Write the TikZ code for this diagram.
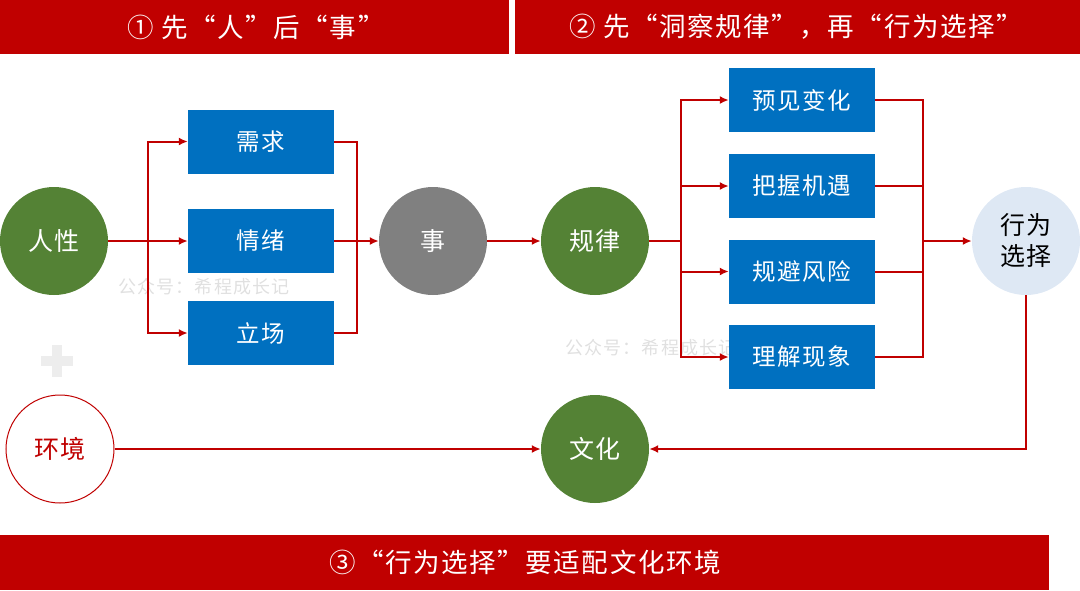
\documentclass[tikz,border=0pt]{standalone}
\usepackage{fontspec}
\setmainfont[LetterSpace=6]{Noto Sans CJK SC}
\usetikzlibrary{arrows.meta}
\definecolor{bannerred}{RGB}{192,0,0}
\definecolor{boxblue}{RGB}{0,112,192}
\definecolor{leafgreen}{RGB}{84,130,53}
\definecolor{palesky}{RGB}{222,232,244}
\tikzset{
    banner/.style={text=white, font=\fontsize{26.5}{30}\selectfont},
    stepbox/.style={fill=boxblue, text=white, minimum width=146pt, minimum height=64pt, inner sep=0pt, font=\fontsize{23.5}{27}\selectfont},
    disc/.style={circle, minimum size=108pt, inner sep=0pt, font=\fontsize{25}{31}\selectfont},
    flow/.style={draw=bannerred, line width=2pt, -{Latex[length=9pt,width=8pt]}},
    rail/.style={draw=bannerred, line width=2pt},
    mark text/.style={text=black!12, font=\fontsize{18}{21}\selectfont}
}
\begin{document}
\begin{tikzpicture}[x=1pt,y=-1pt]
    \useasboundingbox (0,0) rectangle (1080,590);

    % Watermarks
    \node[mark text] (markl) at (204,287) {公众号：希程成长记};
    \node[mark text] (markr) at (651,348) {公众号：希程成长记};
    \fill[black!7] (52,345) rectangle (62,377);
    \fill[black!7] (41,356) rectangle (73,366);

    % Banners
    \fill[bannerred] (0,0) rectangle (509,54);
    \fill[bannerred] (515,0) rectangle (1080,54);
    \fill[bannerred] (0,535) rectangle (1049,590);
    \node[banner] (headl) at (256,27) {① 先“人”后“事”};
    \node[banner] (headr) at (796,27) {② 先“洞察规律”，再“行为选择”};
    \node[banner] (foot) at (525,562) {③“行为选择”要适配文化环境};

    % Circles
    \node[disc, fill=leafgreen, text=white] (renxing) at (54,241) {人性};
    \node[disc, fill=black!50, text=white] (shi) at (433,241) {事};
    \node[disc, fill=leafgreen, text=white] (guilv) at (595,241) {规律};
    \node[disc, fill=palesky, text=black, align=center] (xuanze) at (1026,241) {行为\\选择};
    \node[disc, draw=bannerred, fill=white, text=bannerred, line width=1pt] (huanjing) at (60,449) {环境};
    \node[disc, fill=leafgreen, text=white] (wenhua) at (595,449) {文化};

    % Left boxes
    \node[stepbox] (xuqiu) at (261,141.5) {需求};
    \node[stepbox] (qingxu) at (261,241) {情绪};
    \node[stepbox] (lichang) at (261,333) {立场};

    % Right boxes
    \node[stepbox] (yujian) at (802,100) {预见变化};
    \node[stepbox] (bawo) at (802,186) {把握机遇};
    \node[stepbox] (guibi) at (802,271.5) {规避风险};
    \node[stepbox] (lijie) at (802,357) {理解现象};

    % Rails
    \coordinate (railla) at (148,241);
    \coordinate (raillb) at (357,241);
    \coordinate (railra) at (681,241);
    \coordinate (railrb) at (923,241);

    % Left group
    \draw[flow] (renxing) -- (qingxu);
    \draw[flow] (railla) |- (xuqiu);
    \draw[flow] (railla) |- (lichang);
    \draw[rail] (xuqiu) -| (raillb);
    \draw[rail] (lichang) -| (raillb);
    \draw[flow] (qingxu) -- (shi);

    % Right group
    \draw[flow] (shi) -- (guilv);
    \draw[rail] (guilv) -- (railra);
    \foreach \n in {yujian,bawo,guibi,lijie} {
        \draw[flow] (railra) |- (\n);
        \draw[rail] (\n) -| (railrb);
    }
    \draw[flow] (railrb) -- (xuanze);

    % Bottom row
    \draw[flow] (huanjing) -- (wenhua);
    \draw[flow] (xuanze) |- (wenhua);
\end{tikzpicture}
\end{document}
